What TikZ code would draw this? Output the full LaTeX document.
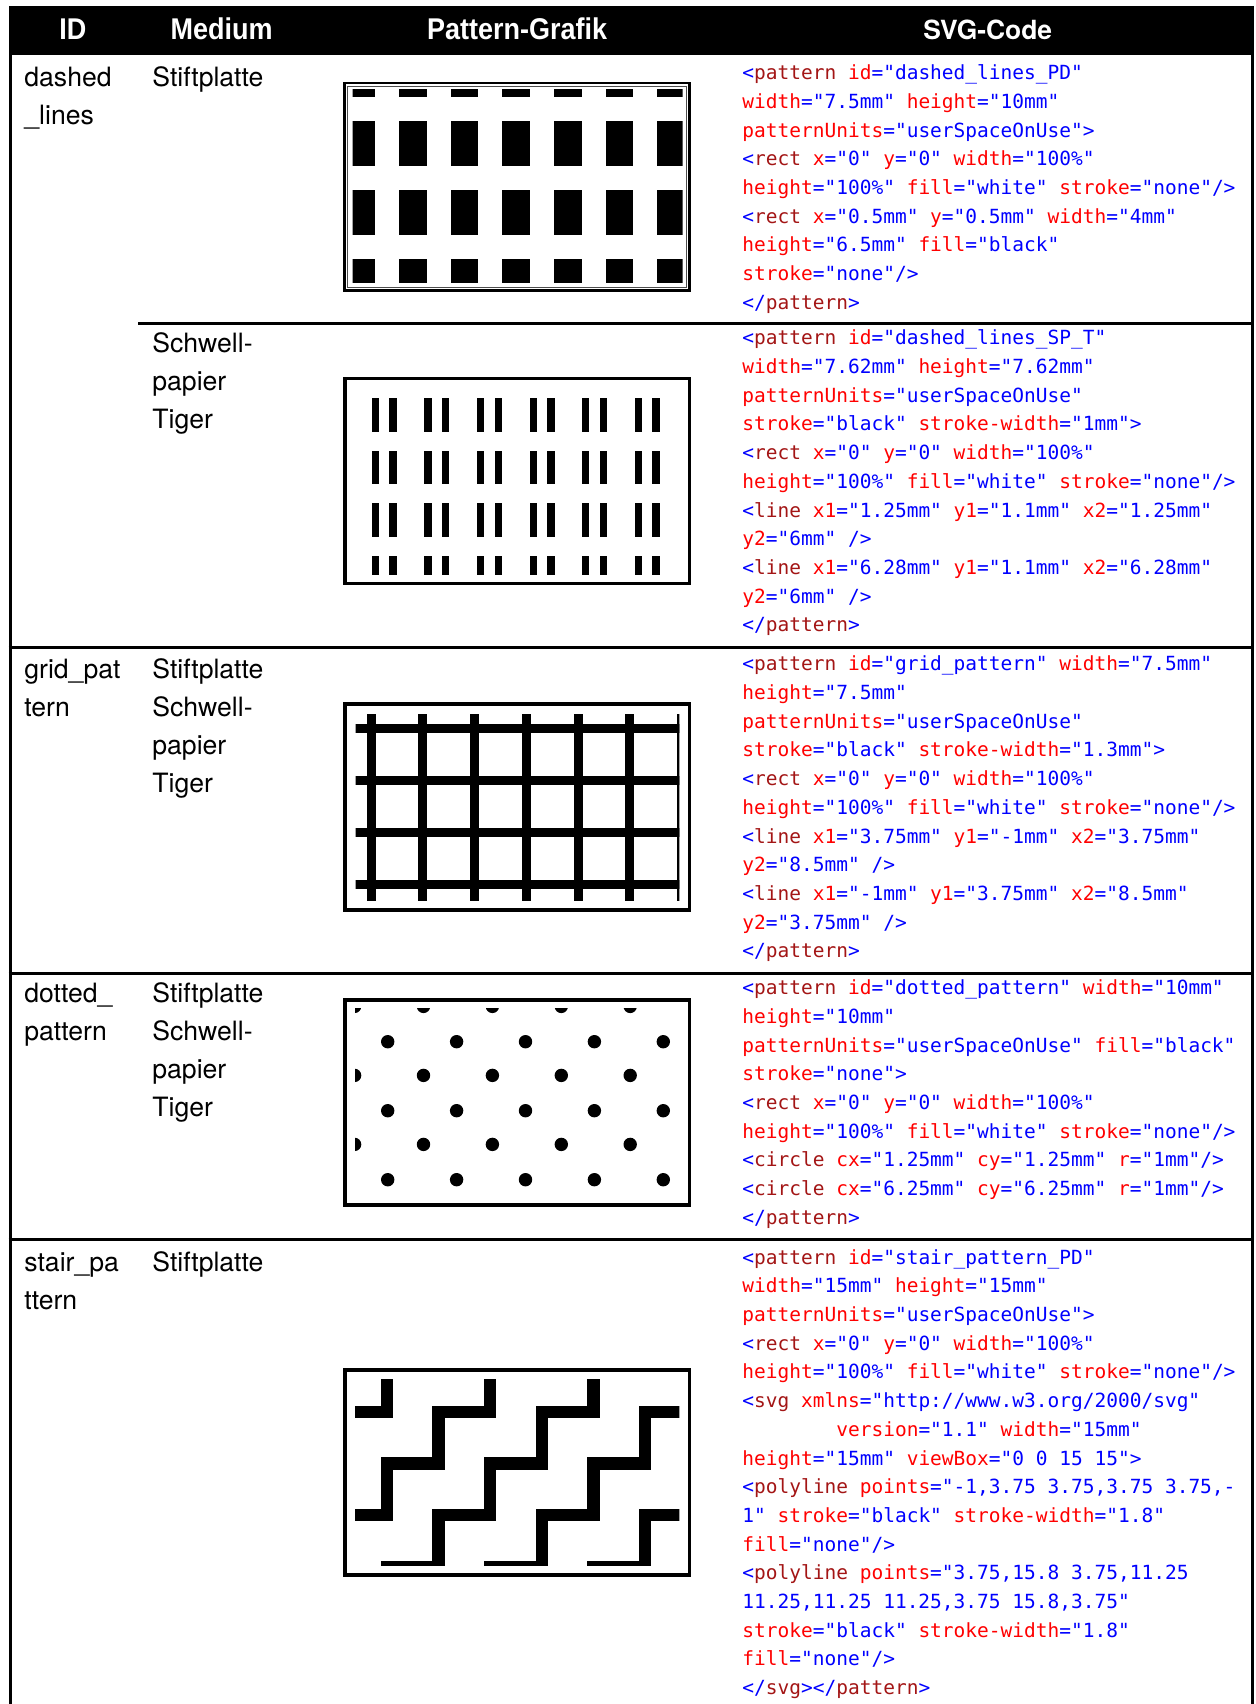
\documentclass[tikz,border=0pt]{standalone}
\usepackage{fontspec}
\setmainfont{TeX Gyre Heros}
\newfontfamily\hdfont[FakeStretch=0.9]{Liberation Sans}
\newfontfamily\cdfont{DejaVu Sans Mono}
\usepackage{xcolor}
\usetikzlibrary{positioning}
\definecolor{cTag}{HTML}{A31515}
\definecolor{cAtt}{HTML}{FF0000}
\definecolor{cVal}{HTML}{0000FF}
\tikzstyle{tline}=[line width=1.5pt]
\tikzstyle{frm}=[draw=black, line width=1.65pt]
\tikzstyle{hd}=[anchor=base, text=white, inner sep=0pt, font=\hdfont\bfseries\fontsize{15}{17}\selectfont]
\tikzstyle{cell}=[anchor=north west, align=left, inner sep=0pt, font=\fontsize{13.3}{19}\selectfont]
\tikzstyle{xmlcode}=[anchor=north west, align=left, inner sep=0pt, font=\cdfont\fontsize{9.75}{14.35}\selectfont]
\newcommand{\xpun}[1]{\textcolor{cVal}{#1}}
\newcommand{\xtag}[1]{\xpun{<}\textcolor{cTag}{#1}}
\newcommand{\xend}[1]{\xpun{</}\textcolor{cTag}{#1}\xpun{>}}
\newcommand{\xatt}[2]{\textcolor{cAtt}{#1}\xpun{="#2"}}

\begin{document}
\begin{tikzpicture}[x=0.5pt, y=-0.5pt]
    \useasboundingbox (0,0) rectangle (1255,1704);
    % header
    \fill (8.5,6) rectangle (1254,55);
    \node[hd] (hid) at (72.8,39.5) {ID};
    \node[hd] (hmed) at (221.7,39.5) {Medium};
    \node[hd] (hpat) at (517.2,39.5) {Pattern-Grafik};
    \node[hd, font=\bfseries\fontsize{13.2}{16}\selectfont] (hsvg) at (987.7,39.5) {SVG-Code};

    % table rules
    \draw[tline] (10,6) -- (10,1704);
    \draw[tline] (1252.5,6) -- (1252.5,1704);
    \draw[tline] (138,323) -- (1254,323);
    \foreach \y in {647,973,1239}
        \draw[tline] (8.5,\y) -- (1254,\y);

    % dashed_lines_PD
    \begin{scope}
        \clip (352.5,89.3) rectangle (682.5,282.7);
        \foreach \i in {0,...,6}
            \foreach \j in {0,...,3}
                \fill (347.6+51.6*\i,51.9+69*\j) rectangle ++(27.5,45);
    \end{scope}
    % dashed_lines_SP_T
    \begin{scope}
        \clip (352.5,385) rectangle (682.5,574);
        \foreach \i in {0,...,5}
            \foreach \j in {0,...,3} {
                \fill (371.7+52.6*\i,398.3+52.4*\j) rectangle ++(7.3,33.4);
                \fill (389.4+52.6*\i,398.3+52.4*\j) rectangle ++(7.3,33.4);
            }
    \end{scope}
    % grid_pattern
    \begin{scope}
        \clip (355.7,714) rectangle (679.3,900.7);
        \foreach \i in {0,...,6}
            \draw[line width=4.5pt] (371.2+51.75*\i,700) -- ++(0,215);
        \foreach \j in {0,...,3}
            \draw[line width=4.5pt] (340,728.8+52*\j) -- ++(355,0);
    \end{scope}
    % dotted_pattern
    \begin{scope}
        \clip (355,1008.3) rectangle (679,1195);
        \foreach \m in {0,...,4} {
            \foreach \k in {0,...,2}
                \fill (387.7+68.9*\m,1041.7+69*\k) circle (6.7);
            \foreach \k in {0,...,3}
                \fill (354.6+68.9*\m,1006.4+69*\k) circle (6.7);
        }
    \end{scope}
    % stair_pattern_PD
    \begin{scope}
        \clip (355,1379) rectangle (679.3,1565.7);
        \foreach \i in {-1,...,3}
            \foreach \j in {-1,...,2} {
                \begin{scope}[shift={(361.2+103.2*\i,1386.2+103.2*\j)}, x=3.44pt, y=-3.44pt]
                    \draw[line width=6.2pt] (-1,3.75) -- (3.75,3.75) -- (3.75,-1);
                    \draw[line width=6.2pt] (3.75,15.8) -- (3.75,11.25) -- (11.25,11.25) -- (11.25,3.75) -- (15.8,3.75);
                \end{scope}
            }
    \end{scope}

    % frames
    \draw[line width=1.2pt] (344.5,82.8) rectangle (689.5,290.3);
    \draw[line width=0.45pt, black!70] (347.6,86) rectangle (686.4,287.1);
    \foreach \t/\b in {378.3/583.3, 704/910, 1000/1205, 1370/1575}
        \draw[frm] (345,\t) rectangle (689.3,\b);

    % ID and Medium
    \node[cell] (id1) at (24,59) {\strut dashed\\\_lines};
    \node[cell] (md1) at (152,59) {\strut Stiftplatte};
    \node[cell] (md2) at (152,325.4) {\strut Schwell-\\papier\\Tiger};
    \node[cell] (id3) at (24,651.3) {\strut grid\_pat\\tern};
    \node[cell] (md3) at (152,651.3) {\strut Stiftplatte\\Schwell-\\papier\\Tiger};
    \node[cell] (id4) at (24,975.2) {\strut dotted\_\\pattern};
    \node[cell] (md4) at (152,975.2) {\strut Stiftplatte\\Schwell-\\papier\\Tiger};
    \node[cell] (id5) at (24,1244.6) {\strut stair\_pa\\ttern};
    \node[cell] (md5) at (152,1244.6) {\strut Stiftplatte};

    % SVG code
    \node[xmlcode] (svg1) at (742,59.2) {\strut\xtag{pattern} \xatt{id}{dashed\_lines\_PD}\\
        \xatt{width}{7.5mm} \xatt{height}{10mm}\\
        \xatt{patternUnits}{userSpaceOnUse}\xpun{>}\\
        \xtag{rect} \xatt{x}{0} \xatt{y}{0} \xatt{width}{100\%}\\
        \xatt{height}{100\%} \xatt{fill}{white} \xatt{stroke}{none}\xpun{/>}\\
        \xtag{rect} \xatt{x}{0.5mm} \xatt{y}{0.5mm} \xatt{width}{4mm}\\
        \xatt{height}{6.5mm} \xatt{fill}{black}\\
        \xatt{stroke}{none}\xpun{/>}\\
        \xend{pattern}};
    \node[xmlcode] (svg2) at (742,324.3) {\strut\xtag{pattern} \xatt{id}{dashed\_lines\_SP\_T}\\
        \xatt{width}{7.62mm} \xatt{height}{7.62mm}\\
        \xatt{patternUnits}{userSpaceOnUse}\\
        \xatt{stroke}{black} \xatt{stroke-width}{1mm}\xpun{>}\\
        \xtag{rect} \xatt{x}{0} \xatt{y}{0} \xatt{width}{100\%}\\
        \xatt{height}{100\%} \xatt{fill}{white} \xatt{stroke}{none}\xpun{/>}\\
        \xtag{line} \xatt{x1}{1.25mm} \xatt{y1}{1.1mm} \xatt{x2}{1.25mm}\\
        \xatt{y2}{6mm} \xpun{/>}\\
        \xtag{line} \xatt{x1}{6.28mm} \xatt{y1}{1.1mm} \xatt{x2}{6.28mm}\\
        \xatt{y2}{6mm} \xpun{/>}\\
        \xend{pattern}};
    \node[xmlcode] (svg3) at (742,650.3) {\strut\xtag{pattern} \xatt{id}{grid\_pattern} \xatt{width}{7.5mm}\\
        \xatt{height}{7.5mm}\\
        \xatt{patternUnits}{userSpaceOnUse}\\
        \xatt{stroke}{black} \xatt{stroke-width}{1.3mm}\xpun{>}\\
        \xtag{rect} \xatt{x}{0} \xatt{y}{0} \xatt{width}{100\%}\\
        \xatt{height}{100\%} \xatt{fill}{white} \xatt{stroke}{none}\xpun{/>}\\
        \xtag{line} \xatt{x1}{3.75mm} \xatt{y1}{-1mm} \xatt{x2}{3.75mm}\\
        \xatt{y2}{8.5mm} \xpun{/>}\\
        \xtag{line} \xatt{x1}{-1mm} \xatt{y1}{3.75mm} \xatt{x2}{8.5mm}\\
        \xatt{y2}{3.75mm} \xpun{/>}\\
        \xend{pattern}};
    \node[xmlcode] (svg4) at (742,974.1) {\strut\xtag{pattern} \xatt{id}{dotted\_pattern} \xatt{width}{10mm}\\
        \xatt{height}{10mm}\\
        \xatt{patternUnits}{userSpaceOnUse} \xatt{fill}{black}\\
        \xatt{stroke}{none}\xpun{>}\\
        \xtag{rect} \xatt{x}{0} \xatt{y}{0} \xatt{width}{100\%}\\
        \xatt{height}{100\%} \xatt{fill}{white} \xatt{stroke}{none}\xpun{/>}\\
        \xtag{circle} \xatt{cx}{1.25mm} \xatt{cy}{1.25mm} \xatt{r}{1mm}\xpun{/>}\\
        \xtag{circle} \xatt{cx}{6.25mm} \xatt{cy}{6.25mm} \xatt{r}{1mm}\xpun{/>}\\
        \xend{pattern}};
    \node[xmlcode] (svg5) at (742,1243.6) {\strut\xtag{pattern} \xatt{id}{stair\_pattern\_PD}\\
        \xatt{width}{15mm} \xatt{height}{15mm}\\
        \xatt{patternUnits}{userSpaceOnUse}\xpun{>}\\
        \xtag{rect} \xatt{x}{0} \xatt{y}{0} \xatt{width}{100\%}\\
        \xatt{height}{100\%} \xatt{fill}{white} \xatt{stroke}{none}\xpun{/>}\\
        \xtag{svg} \xatt{xmlns}{http://www.w3.org/2000/svg}\\
        \phantom{xxxxxxxx}\xatt{version}{1.1} \xatt{width}{15mm}\\
        \xatt{height}{15mm} \xatt{viewBox}{0 0 15 15}\xpun{>}\\
        \xtag{polyline} \textcolor{cAtt}{points}\xpun{="-1,3.75 3.75,3.75 3.75,-}\\
        \xpun{1"} \xatt{stroke}{black} \xatt{stroke-width}{1.8}\\
        \xatt{fill}{none}\xpun{/>}\\
        \xtag{polyline} \textcolor{cAtt}{points}\xpun{="3.75,15.8 3.75,11.25}\\
        \xpun{11.25,11.25 11.25,3.75 15.8,3.75"}\\
        \xatt{stroke}{black} \xatt{stroke-width}{1.8}\\
        \xatt{fill}{none}\xpun{/>}\\
        \xend{svg}\xend{pattern}};
\end{tikzpicture}
\end{document}
